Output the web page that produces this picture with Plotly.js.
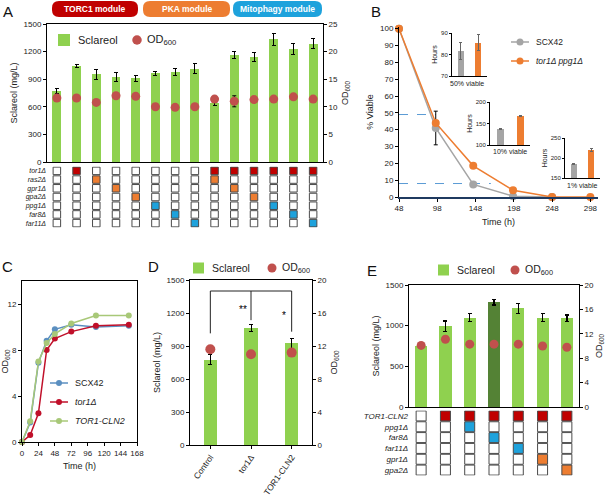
<!DOCTYPE html>
<html><head><meta charset="utf-8">
<script src="https://cdn.plot.ly/plotly-3.0.1.min.js"></script>
<style>html,body{margin:0;padding:0;background:#fff}#chart{width:605px;height:496px}</style>
</head><body><div id="chart"></div>
<script>
// ---------- DATA ----------
// Panel A
const aSclareol = [772,1045,955,925,908,963,978,1015,641,1163,1143,1335,1230,1285];
const aSclErr   = [28,18,55,45,35,20,40,55,30,42,50,65,60,55];
const aOD       = [11.6,11.6,10.8,12.0,11.9,10.0,9.9,10.0,11.4,11.0,11.3,11.4,11.8,11.4];
const aODErr    = [0,0,0,0,0,0,0,0,0,1.0,0,0,0,0];
const aRows     = ['tor1Δ','ras2Δ','gpr1Δ','gpa2Δ','ppg1Δ','far8Δ','far11Δ'];
const aRowModule= ['TORC1','PKA','PKA','PKA','Mitophagy','Mitophagy','Mitophagy'];
const aDel = [[],['tor1Δ'],['ras2Δ'],['gpr1Δ'],['gpa2Δ'],['ppg1Δ'],['far8Δ'],['far11Δ'],
  ['tor1Δ','ras2Δ'],['tor1Δ','gpr1Δ'],['tor1Δ','gpa2Δ'],['tor1Δ','ppg1Δ'],['tor1Δ','far8Δ'],['tor1Δ','far11Δ']];
const modules = ['TORC1 module','PKA module','Mitophagy module'];
// Panel B
const bTime   = [48, 96, 145, 197, 248, 298];
const bSCX    = [100, 41, 7.5, 0.5, 0, 0];
const bSCXErr = [0, 10, 0, 0, 0, 0];
const bTP     = [100, 44, 18.5, 4, 0, 0];
const bRefLevel = [49, 8];
const bRefEnd   = [96, 168];
const bStrains  = ['SCX42','tor1Δ ppg1Δ'];
const bH50 = [81.5, 85.5], bH50Err = [4, 3.6];
const bH10 = [138, 167],   bH10Err = [1, 1.5];
const bH1  = [185, 221],   bH1Err  = [2, 4];
const bInsetNames = ['50% viable','10% viable','1% viable'];
// Panel C
const cTime = [0, 12, 24, 36, 48, 72, 108, 156];
const cSCX  = [0, 1.7, 6.9, 8.8, 9.8, 10.2, 10.0, 10.1];
const cTor1 = [0, 0.6, 2.5, 8.0, 9.0, 9.6, 10.1, 10.2];
const cCLN2 = [0, 1.8, 7.0, 8.6, 9.4, 10.3, 11.0, 11.0];
const cNames = ['SCX42','tor1Δ','TOR1-CLN2'];
// Panel D
const dCats = ['Control','tor1Δ','TOR1-CLN2'];
const dScl  = [775, 1062, 925];
const dErr  = [45, 33, 45];
const dOD   = [11.6, 11.0, 11.2];
const dBracketTop = 1400;
const dBracketBottom = [1015, 1135, 1030];
const dSig = ['', '**', '*'];
// Panel E
const eScl = [750, 992, 1100, 1288, 1212, 1100, 1089];
const eErr = [0, 65, 50, 35, 60, 50, 40];
const eOD  = [10.1, 11.1, 10.3, 10.3, 10.3, 10.0, 9.8];
const eRows = ['TOR1-CLN2','ppg1Δ','far8Δ','far11Δ','gpr1Δ','gpa2Δ'];
const eRowModule = ['TORC1','Mitophagy','Mitophagy','Mitophagy','PKA','PKA'];
const eDel = [[],['TOR1-CLN2'],['TOR1-CLN2','ppg1Δ'],['TOR1-CLN2','far8Δ'],['TOR1-CLN2','far11Δ'],['TOR1-CLN2','gpr1Δ'],['TOR1-CLN2','gpa2Δ']];
const legendNames = ['Sclareol', 'OD<sub>600</sub>'];

// ---------- STYLE ----------
const FONT = 'Liberation Sans, Arial, sans-serif';
const W = 605, H = 496;
const GREEN = '#8fd14f', DKGREEN = '#548235', RED = '#c0504d';
const GRAY = '#a5a5a5', ORANGE = '#ed7d31';
const C_SCX = '#5b8fc0', C_TOR = '#c0102a', C_CLN = '#a8c878';
const modColor = {TORC1:'#c00000', PKA:'#ed7d31', Mitophagy:'#1ea2dc'};
const px = v => v / W, py = v => 1 - v / H;
const dx = (a,b) => [px(a), px(b)];
const dy = (top,bot) => [py(bot), py(top)];

function matrixTrace(rows, rowMod, del, xa, ya, size) {
  const x = [], y = [], c = [];
  del.forEach((d, ci) => rows.forEach((r, ri) => {
    x.push(ci); y.push(ri); c.push(d.includes(r) ? modColor[rowMod[ri]] : '#ffffff');
  }));
  return {type:'scatter', mode:'markers', x, y, xaxis:xa, yaxis:ya, showlegend:false, hoverinfo:'skip',
    marker:{symbol:'square', size, color:c, line:{color:'#4a4a4a', width:1}}};
}
const idx = arr => arr.map((_, i) => i);

const traces = [];
// ---- A ----
traces.push({type:'bar', x:idx(aSclareol), y:aSclareol, xaxis:'x', yaxis:'y', name:'Sclareol',
  width:0.45, marker:{color:GREEN}, error_y:{type:'data', array:aSclErr, color:'#000', thickness:1, width:2}});
traces.push({type:'scatter', mode:'markers', x:idx(aOD), y:aOD, xaxis:'x', yaxis:'y2', name:'OD600',
  marker:{color:RED, size:9}, error_y:{type:'data', array:aODErr, color:'#000', thickness:1, width:2}});
traces.push(matrixTrace(aRows, aRowModule, aDel, 'x2', 'y3', 7.5));
// ---- B ----
bRefLevel.forEach((lv, i) => traces.push({type:'scatter', mode:'lines', x:[bTime[0], bRefEnd[i]], y:[lv, lv],
  xaxis:'x3', yaxis:'y4', hoverinfo:'skip', line:{color:'#5b9bd5', width:1, dash:'dash'}}));
traces.push({type:'scatter', mode:'lines+markers', x:bTime.slice(0,5), y:bSCX.slice(0,5), xaxis:'x3', yaxis:'y4', name:bStrains[0],
  line:{color:GRAY, width:1.5}, marker:{color:GRAY, size:8}, cliponaxis:false,
  error_y:{type:'data', array:bSCXErr.slice(0,5), color:'#000', thickness:1, width:2}});
traces.push({type:'scatter', mode:'lines+markers', x:bTime, y:bTP, xaxis:'x3', yaxis:'y4', name:bStrains[1],
  line:{color:ORANGE, width:1.5}, marker:{color:ORANGE, size:8}, cliponaxis:false});
[[bH50,bH50Err,'x4','y5'],[bH10,bH10Err,'x5','y6'],[bH1,bH1Err,'x6','y7']].forEach(([v,e,xa,ya]) => {
  traces.push({type:'bar', x:[0,1], y:v, xaxis:xa, yaxis:ya, width:0.35,
    marker:{color:[GRAY, ORANGE]}, error_y:{type:'data', array:e, color:'#666', thickness:1, width:1.5}});
});
// ---- C ----
[[cSCX,C_SCX],[cTor1,C_TOR],[cCLN2,C_CLN]].forEach(([v,col],i) => {
  traces.push({type:'scatter', mode:'lines+markers', x:cTime, y:v, xaxis:'x7', yaxis:'y8', name:cNames[i],
    line:{color:col, width:1.5}, marker:{color:col, size:6}, cliponaxis:false});
});
// ---- D ----
traces.push({type:'bar', x:idx(dCats), y:dScl, xaxis:'x8', yaxis:'y9', name:'Sclareol', width:0.33,
  marker:{color:GREEN}, error_y:{type:'data', array:dErr, color:'#000', thickness:1, width:2}});
traces.push({type:'scatter', mode:'markers', x:idx(dOD), y:dOD, xaxis:'x8', yaxis:'y10', name:'OD600',
  marker:{color:RED, size:10}});
(function(){
  const last = dCats.length - 1, mid = 1;
  traces.push({type:'scatter', mode:'lines', xaxis:'x8', yaxis:'y9', hoverinfo:'skip',
    x:[0,0,last,last,null,mid,mid], y:[dBracketBottom[0],dBracketTop,dBracketTop,dBracketBottom[last],null,dBracketTop,dBracketBottom[mid]],
    line:{color:'#222', width:1}});
})();
// ---- E ----
traces.push({type:'bar', x:idx(eScl), y:eScl, xaxis:'x9', yaxis:'y11', name:'Sclareol', width:0.5,
  marker:{color:eScl.map((v,i)=> v===Math.max(...eScl) ? DKGREEN : GREEN)},
  error_y:{type:'data', array:eErr, color:'#000', thickness:1.5, width:2}});
traces.push({type:'scatter', mode:'markers', x:idx(eOD), y:eOD, xaxis:'x9', yaxis:'y12', name:'OD600',
  marker:{color:RED, size:9}});
traces.push(matrixTrace(eRows, eRowModule, eDel, 'x10', 'y13', 10));

// ---------- LAYOUT ----------
const ax = (o) => Object.assign({showgrid:false, zeroline:false, showline:true, linecolor:'#000', linewidth:1,
  ticks:'outside', ticklen:3, tickwidth:1, tickcolor:'#000', tickfont:{size:8}, fixedrange:true}, o);
const hidden = (o) => Object.assign({visible:false, fixedrange:true}, o);

const annotations = [];
const shapes = [];
const txt = (x,y,t,size,extra) => annotations.push(Object.assign({xref:'paper', yref:'paper', x:px(x), y:py(y), text:t,
  showarrow:false, font:{size, color:'#222'}, xanchor:'left', yanchor:'middle'}, extra||{}));
// custom legends
function legSquare(x,y,s,col,label,size){
  shapes.push({type:'rect', xref:'paper', yref:'paper', x0:px(x), x1:px(x+s), y0:py(y+s/2), y1:py(y-s/2), fillcolor:col, line:{width:0}});
  txt(x+s+6, y, label, size);
}
function legDot(x,y,d,col,label,size,gap){
  shapes.push({type:'circle', xref:'paper', yref:'paper', x0:px(x-d/2), x1:px(x+d/2), y0:py(y+d/2), y1:py(y-d/2), fillcolor:col, line:{width:0}});
  txt(x+d/2+(gap||5), y, label, size);
}
function legLine(x0,x1,y,d,col,label,size,italic){
  shapes.push({type:'line', xref:'paper', yref:'paper', x0:px(x0), x1:px(x1), y0:py(y), y1:py(y), line:{color:col, width:1.5}});
  const m=(x0+x1)/2;
  shapes.push({type:'circle', xref:'paper', yref:'paper', x0:px(m-d/2), x1:px(m+d/2), y0:py(y+d/2), y1:py(y-d/2), fillcolor:col, line:{width:0}});
  txt(x1+5, y, italic ? '<i>'+label+'</i>' : label, size);
}
legSquare(58, 40, 12, GREEN, legendNames[0], 11);
legDot(137, 40, 9.5, RED, legendNames[1], 11, 3);
legLine(511, 529, 42, 7, GRAY, bStrains[0], 8.5);
legLine(511, 529, 61, 7, ORANGE, bStrains[1], 8.5, true);
[[C_SCX,383],[C_TOR,402],[C_CLN,421]].forEach(([c,y],i)=> legLine(50, 68, y, 6, c, cNames[i], 9, i>0));
legSquare(193, 268, 11, GREEN, legendNames[0], 10.5);
legDot(272, 268, 9, RED, legendNames[1], 10.5, 3);
legSquare(438, 270, 11, GREEN, legendNames[0], 10.5);
legDot(515, 270, 9, RED, legendNames[1], 10.5, 3);
// inset captions
[[467,83],[510,152],[582,185]].forEach(([x,y],i)=> txt(x, y, bInsetNames[i], 7, {xanchor:'center'}));

// panel letters
[['A',8,12],['B',376,12],['C',7,266],['D',153,266],['E',372,270]].forEach(([t,x,y]) =>
  txt(x,y,t,15,{xanchor:'center', font:{size:15, color:'#111'}}));
// module banners
const banner = [[52,138,'#c00000'],[143,230,'#ed7d31'],[233,322,'#1ea2dc']];
function rrect(x0,y0,x1,y1,r){
  const X=v=>px(v).toFixed(5), Y=v=>py(v).toFixed(5);
  return `M${X(x0+r)},${Y(y0)} L${X(x1-r)},${Y(y0)} Q${X(x1)},${Y(y0)} ${X(x1)},${Y(y0+r)} L${X(x1)},${Y(y1-r)} Q${X(x1)},${Y(y1)} ${X(x1-r)},${Y(y1)} L${X(x0+r)},${Y(y1)} Q${X(x0)},${Y(y1)} ${X(x0)},${Y(y1-r)} L${X(x0)},${Y(y0+r)} Q${X(x0)},${Y(y0)} ${X(x0+r)},${Y(y0)} Z`;
}
modules.forEach((m,i) => {
  const [x0,x1,col] = banner[i];
  shapes.push({type:'path', xref:'paper', yref:'paper', path:rrect(x0,1,x1,17,7), fillcolor:col, line:{width:0}});
  txt((x0+x1)/2, 9, '<b>'+m+'</b>', 8.5, {xanchor:'center', font:{size:8.5, color:'#fff'}});
});
// D significance
dSig.forEach((s,i) => { if (s) annotations.push({xref:'x8', yref:'y9', x:i-0.2, y:(dBracketTop+dBracketBottom[i])/2 - 40, text:s,
  showarrow:false, font:{size:10, color:'#000'}, xanchor:'center', yanchor:'middle'}); });

const layout = {
  width:W, height:H, margin:{l:0,r:0,t:0,b:0,autoexpand:false}, paper_bgcolor:'#fff', plot_bgcolor:'rgba(0,0,0,0)',
  font:{family:FONT, size:8, color:'#222'}, showlegend:false, bargap:0, hovermode:false,
  // A
  xaxis: ax({domain:dx(47,323), range:[-0.5,13.5], showticklabels:false, ticks:'', mirror:true, anchor:'y'}),
  yaxis: ax({domain:dy(24,162), range:[0,1500], dtick:300, anchor:'x', title:{text:'Sclareol (mg/L)', font:{size:9}, standoff:4}}),
  yaxis2: ax({overlaying:'y', side:'right', anchor:'x', range:[0,25], dtick:5, title:{text:'OD<sub>600</sub>', font:{size:9}, standoff:4}}),
  xaxis2: hidden({domain:dx(47,323), range:[-0.5,13.5], anchor:'y3'}),
  yaxis3: {domain:dy(166.5,227.5), range:[6.5,-0.5], anchor:'x2', showgrid:false, zeroline:false, showline:false, ticks:'',
    tickvals:idx(aRows), ticktext:aRows.map(r=>'<i>'+r+'</i>'), tickfont:{size:7}, fixedrange:true},
  // B
  xaxis3: ax({domain:dx(399,598), range:[48,308], tickvals:[48,98,148,198,248,298], anchor:'y4', linecolor:'#1f3a60', linewidth:1.5,
    title:{text:'Time (h)', font:{size:9}, standoff:6}}),
  yaxis4: ax({domain:dy(27,197), range:[0,101], dtick:10, anchor:'x3', title:{text:'% Viable', font:{size:9}, standoff:4}}),
  xaxis4: ax({domain:dx(452,487), range:[-0.5,1.5], showticklabels:false, ticks:'', anchor:'y5'}),
  yaxis5: ax({domain:dy(33,76), range:[70,90], dtick:10, anchor:'x4', ticklen:2, tickfont:{size:6}, title:{text:'Hours', font:{size:7}, standoff:2}}),
  xaxis5: ax({domain:dx(490,530), range:[-0.5,1.5], showticklabels:false, ticks:'', anchor:'y6'}),
  yaxis6: ax({domain:dy(102,145), range:[100,200], dtick:50, anchor:'x5', ticklen:2, tickfont:{size:6}, title:{text:'Hours', font:{size:7}, standoff:2}}),
  xaxis6: ax({domain:dx(565,600), range:[-0.5,1.5], showticklabels:false, ticks:'', anchor:'y7'}),
  yaxis7: ax({domain:dy(138,178), range:[150,250], dtick:50, anchor:'x6', ticklen:2, tickfont:{size:6}, title:{text:'Hours', font:{size:7}, standoff:2}}),
  // C
  xaxis7: ax({domain:dx(22,137), range:[0,168], dtick:24, anchor:'y8', mirror:true, title:{text:'Time (h)', font:{size:9}, standoff:6}}),
  yaxis8: ax({domain:dy(281,442), range:[0,14], dtick:4, anchor:'x7', mirror:true, title:{text:'OD<sub>600</sub>', font:{size:9}, standoff:2}}),
  // D
  xaxis8: ax({domain:dx(190,312), range:[-0.5,2.5], anchor:'y9', mirror:true, tickvals:idx(dCats),
    ticktext:dCats, tickangle:-55, tickfont:{size:8.5}}),
  yaxis9: ax({domain:dy(280,445), range:[0,1500], dtick:300, anchor:'x8', title:{text:'Sclareol (mg/L)', font:{size:9}, standoff:4}}),
  yaxis10: ax({overlaying:'y9', side:'right', anchor:'x8', range:[0,20], dtick:4, title:{text:'OD<sub>600</sub>', font:{size:9}, standoff:4}}),
  // E
  xaxis9: ax({domain:dx(409,579), range:[-0.5,6.5], showticklabels:false, ticks:'', mirror:true, anchor:'y11'}),
  yaxis11: ax({domain:dy(285,407), range:[0,1500], dtick:500, anchor:'x9', title:{text:'Sclareol (mg/L)', font:{size:9}, standoff:4}}),
  yaxis12: ax({overlaying:'y11', side:'right', anchor:'x9', range:[0,20], dtick:4, title:{text:'OD<sub>600</sub>', font:{size:9}, standoff:4}}),
  xaxis10: hidden({domain:dx(409,579), range:[-0.5,6.5], anchor:'y13'}),
  yaxis13: {domain:dy(410.5,475.5), range:[5.5,-0.5], anchor:'x10', showgrid:false, zeroline:false, showline:false, ticks:'',
    tickvals:idx(eRows), ticktext:eRows.map(r=>'<i>'+r+'</i>'), tickfont:{size:8}, fixedrange:true},
  annotations, shapes
};
Plotly.newPlot('chart', traces, layout, {staticPlot:true, displayModeBar:false});
</script></body></html>
